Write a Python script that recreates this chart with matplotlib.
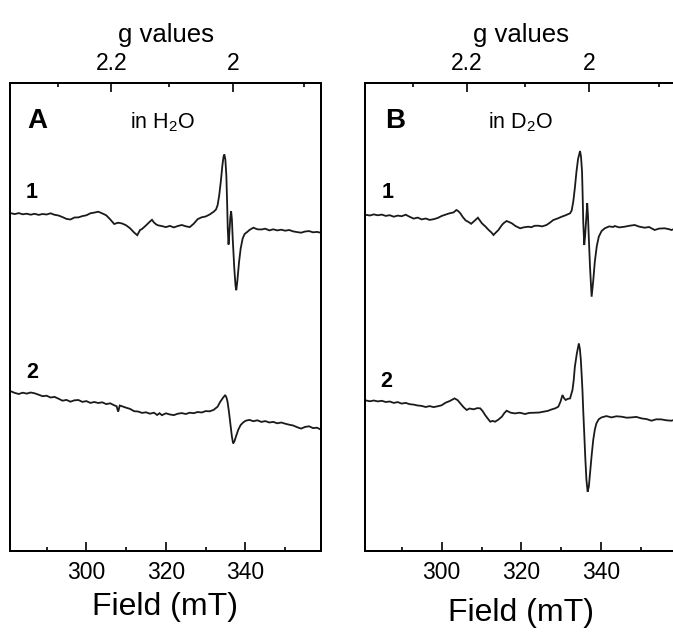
import numpy as np
import matplotlib
matplotlib.use("Agg")
import matplotlib.pyplot as plt

plt.rcParams['font.family'] = ['Liberation Sans', 'DejaVu Sans']
plt.rcParams['mathtext.default'] = 'regular'

# microwave frequency (GHz) used for the g-value axis
nu_ghz = 9.43
x_range = (280.8, 359.0)
field_ticks = [300, 320, 340]
field_minor = [290, 310, 330, 350]
g_ticks = [2.2, 2.0]
g_tick_labels = ['2.2', '2']
g_minor = [2.3, 2.1, 1.9]

# --- panel A, trace 1 (in H2O) ---
field_a1 = [281, 282, 283, 284, 285, 286, 287, 288, 289, 290, 291, 292, 293, 294, 295, 296, 297, 298, 299, 300,
            301, 302, 303, 304, 305, 306, 307, 308, 309, 310, 311, 312, 312.8, 313.5, 314, 315, 316, 316.5, 317, 317.6,
            318, 319, 320, 321, 322, 323, 324, 325, 326, 327, 328, 329, 330, 331, 332, 332.6, 333, 333.4, 333.8, 334.2,
            334.5, 334.7, 334.95, 335.2, 335.4, 335.55, 335.75, 335.95, 336.2, 336.4, 336.6, 336.8, 337.2, 337.5, 337.7,
            337.95, 338.4, 338.8, 339.3, 339.8, 340.5, 341, 342, 343, 344, 345, 346, 347, 348, 349, 350, 351, 352, 353,
            354, 355, 356, 357, 358, 359]
sig_a1 = [0.3, -0.6, 0.4, -0.8, -0.2, -1.2, -0.3, -1.4, -0.5, -1.0, 0.2, -1.3, -2.0, -3.6, -5.4, -6.0, -4.0, -3.9, -2.6, -1.8,
          0.2, 0.9, 1.8, 0.1, -1.8, -5.9, -10.5, -9.2, -10.0, -11.8, -14.8, -19.0, -21.7, -16.5, -15.5, -11.9, -8.0, -6.3, -9.0, -11.0,
          -11.8, -12.6, -13.6, -12.4, -13.9, -12.5, -11.5, -12.8, -13.6, -10.2, -5.6, -3.8, -3.0, -1.0, 1.7, 4.0, 8.3, 18, 31.7, 48,
          57, 59, 54, 38, 10, -15, -31, -20, -4, 2.3, -6, -25, -55, -72, -76.7,
          -68, -48.3, -35, -25, -20.5, -18.3, -16.5, -14.2, -15.8, -16.0, -15.2, -16.9, -15.8, -16.9, -16.2, -17.2, -16.5, -17.9, -18.6,
          -19.2, -18.0, -17.6, -18.8, -18.4, -19.3]

# --- panel A, trace 2 ---
field_a2 = [281, 282, 283, 284, 285, 286, 287, 288, 289, 290, 291, 292, 293, 294, 295, 296, 297, 298, 299, 300,
            301, 302, 303, 304, 305, 306, 307, 307.6, 308, 308.4, 309, 310, 311, 312, 313, 314, 315, 316, 317, 317.8,
            318.4, 319, 320, 321, 322, 323, 324, 325, 326, 327, 328, 329, 330, 331, 332, 333, 333.6, 334.25, 334.9, 335.2,
            335.5, 335.85, 336.2, 336.6, 336.9, 337.2, 337.6, 338.2, 338.8, 339.5, 340.1, 341, 342, 343, 344, 345, 346, 347,
            348, 349, 350, 351, 352, 353, 354, 355, 356, 357, 358, 359]
sig_a2 = [0.4, -1.2, -2.3, -1.0, -1.9, -0.8, -1.6, -3.0, -4.5, -4.0, -5.8, -5.2, -7.0, -9.0, -8.2, -10.0, -8.6, -8.3, -10.2, -9.4,
          -11.2, -10.3, -11.3, -10.6, -12.4, -11.6, -13.6, -14.5, -20, -13.8, -14.6, -16.0, -17.2, -19.5, -19.8, -21.2, -20.6, -22.0, -21.0, -23.3,
          -21.5, -23.5, -21.6, -22.8, -23.4, -22.0, -21.4, -22.3, -21.0, -21.5, -20.3, -20.8, -19.4, -19.6, -18.2, -15.0, -10.5, -6.7, -3.3, -5.5,
          -10, -20, -31.7, -45, -51.7, -50, -45, -38, -33.3, -30.5, -29, -28.2, -29.5, -28.6, -30.2, -29.4, -30.8, -30.2,
          -31.6, -30.8, -32.0, -33.0, -33.8, -35.5, -36.9, -35.2, -34.6, -36.4, -36.0, -38.0]

# --- panel B, trace 1 (in D2O) ---
field_b1 = [281, 282, 283, 284, 285, 286, 287, 288, 289, 290, 291, 292, 293, 294, 295, 296, 297, 298, 299, 300,
            301, 302, 303, 303.7, 304.2, 304.7, 305.3, 306, 307, 307.4, 308, 308.6, 309.1, 309.6, 310.1, 311, 311.8, 312.5, 313, 313.6,
            314.25, 315, 315.5, 316.3, 317, 317.6, 318.5, 319.7, 320.5, 321.7, 322.5, 323.3, 324.25, 325.2, 326.3, 327.2, 328, 329, 330.1, 331,
            332.2, 332.6, 333, 333.4, 333.8, 334.2, 334.7, 334.95, 335.2, 335.35, 335.5, 335.75, 335.95, 336.2, 336.5, 336.7, 336.9, 337.2, 337.6, 338.0,
            338.4, 338.9, 339.4, 340.1, 340.9, 342, 343, 343.4, 344.5, 345.9, 347, 348.4, 349.5, 350.9, 352, 353.4, 354.5, 355.9, 357, 357.6,
            358.4, 359]
sig_b1 = [0.2, -0.5, 0.6, -0.3, 0.4, -0.9, -0.2, -1.7, -0.6, -1.2, 0.3, -1.8, -3.6, -2.6, -4.4, -3.5, -4.9, -4.2, -3.0, -1.0,
          0.4, 1.7, 2.6, 5, 3.8, 1.7, -2, -5.3, -7.6, -8.8, -6.7, -4.5, -2.7, -5.5, -8.3, -11.6, -15, -17.5, -20, -17.5,
          -15, -10.6, -8.3, -6, -7.2, -8.3, -11.0, -13.3, -12.4, -11.7, -12.2, -10.8, -10.7, -11.4, -10, -7.5, -5, -3.6, -1.7, -0.4,
          1.7, 4.5, 13.3, 27, 43.3, 56, 64, 58, 43.3, 20, -6.7, -30, -22, -6.7, 11.7, -2, -23.3, -52, -81.7, -66,
          -46.7, -31, -21.7, -16, -13.3, -11.4, -12.0, -11, -12.4, -11.7, -10.8, -10, -11.6, -12.7, -12.0, -15, -13.6, -13.3, -14.2, -15,
          -13.8, -14.5]

# --- panel B, trace 2 ---
field_b2 = [281, 282, 283, 284, 285, 286, 287, 288, 289, 290, 291, 292, 293, 294, 295, 296, 297, 298, 299, 300,
            301, 302, 303.25, 304, 304.7, 305.5, 306.3, 307, 308, 309, 309.7, 310.3, 310.9, 311.6, 312.2, 312.8, 313.4, 314.2, 315.1, 315.7,
            316.3, 317.3, 318.4, 319.6, 320.9, 322, 323.4, 324.5, 325.5, 326.6, 327.6, 328.5, 329.25, 329.8, 330.3, 330.7, 331.1, 331.6, 332.2, 332.8,
            333.1, 333.4, 333.9, 334.4, 334.65, 334.9, 335.1, 335.3, 335.5, 335.75, 336.0, 336.3, 336.6, 336.9, 337.2, 337.6, 338, 338.4, 338.8, 339.4,
            340.1, 341.3, 342.6, 343.8, 345.1, 346.4, 347.6, 348.8, 350.1, 351.4, 352.6, 353.8, 355.1, 356.3, 357.6, 358.5, 359]
sig_b2 = [0.3, -0.6, 0.2, -0.7, -0.1, -1.3, -0.8, -2.2, -1.4, -2.9, -2.2, -3.5, -3.9, -4.8, -5.2, -6.3, -5.4, -6.4, -5.6, -4.6,
          -2.0, -0.4, 2.3, 0.6, -2.7, -6.5, -9.3, -7.8, -8.6, -7.4, -7.7, -10.5, -14.3, -18, -21, -20.2, -21, -19, -16, -12.5,
          -10, -12.0, -12.7, -12.0, -13.3, -12.2, -12, -11.8, -11, -10.2, -8.7, -7.6, -6, -1, 5.7, 2.5, 0.7, 1.8, 2.3, 10.7,
          20, 34, 47.3, 57.3, 52, 40.7, 26, 10.7, -10, -32.7, -56, -79.3, -91, -86, -72.7, -55, -39.3, -29, -22.7, -18.5,
          -16.7, -15.4, -16.7, -15.6, -16, -17.0, -16.7, -16.2, -17.7, -18.4, -20, -18.6, -18.7, -19.6, -20, -18.9, -19.6]

# vertical stacking of the traces (same units as signals)
offset_1 = 337.5
offset_2a = 159.3
offset_2b = 150.3

fig = plt.figure(figsize=(6.73, 6.32), dpi=100)
W, H = 673, 632
ax_a = fig.add_axes([10 / W, 81 / H, 311 / W, 468 / H])
ax_b = fig.add_axes([365 / W, 81 / H, 312 / W, 468 / H])


def b_from_g(g):
    return 71.4477 * nu_ghz / np.asarray(g, dtype=float)


def style_panel(ax, xlabel_pad):
    ax.set_xlim(*x_range)
    ax.set_ylim(0, 468)
    ax.set_yticks([])
    for sp in ax.spines.values():
        sp.set_linewidth(1.4)
    ax.set_xticks(field_ticks)
    ax.set_xticks(field_minor, minor=True)
    ax.tick_params(axis='x', which='major', direction='in', length=6.5, width=1.2,
                   labelsize=16.5, pad=7)
    ax.tick_params(axis='x', which='minor', direction='in', length=3.2, width=1.2)
    ax.set_xlabel('Field (mT)', fontsize=23, labelpad=xlabel_pad)

    top = ax.twiny()
    top.set_xlim(*x_range)
    top.set_xticks(b_from_g(g_ticks))
    top.set_xticklabels(g_tick_labels)
    top.set_xticks(b_from_g(g_minor), minor=True)
    top.tick_params(axis='x', which='major', direction='in', length=6.5, width=1.2,
                    labelsize=16.5, pad=6)
    top.tick_params(axis='x', which='minor', direction='in', length=3.2, width=1.2)
    for sp in top.spines.values():
        sp.set_linewidth(1.4)
    top.set_xlabel('g values', fontsize=18.5, labelpad=7)
    return top


style_panel(ax_a, 6)
style_panel(ax_b, 10)

line_kw = dict(color='#1a1a1a', lw=1.3, solid_joinstyle='miter')
ax_a.plot(field_a1, np.array(sig_a1) + offset_1, **line_kw)
ax_a.plot(field_a2, np.array(sig_a2) + offset_2a, **line_kw)
ax_b.plot(field_b1, np.array(sig_b1) + offset_1 - 1.5, **line_kw)
ax_b.plot(field_b2, np.array(sig_b2) + offset_2b, **line_kw)

ax_a.text(0.055, 0.904, 'A', transform=ax_a.transAxes, fontsize=20, fontweight='bold')
ax_a.text(0.492, 0.904, 'in H$_2$O', transform=ax_a.transAxes, fontsize=15.5, ha='center')
ax_b.text(0.064, 0.904, 'B', transform=ax_b.transAxes, fontsize=20, fontweight='bold')
ax_b.text(0.497, 0.904, 'in D$_2$O', transform=ax_b.transAxes, fontsize=15.5, ha='center')

ax_a.text(0.071, 0.765, '1', transform=ax_a.transAxes, fontsize=15.5, fontweight='bold', ha='center', va='center')
ax_a.text(0.071, 0.382, '2', transform=ax_a.transAxes, fontsize=15.5, fontweight='bold', ha='center', va='center')
ax_b.text(0.074, 0.765, '1', transform=ax_b.transAxes, fontsize=15.5, fontweight='bold', ha='center', va='center')
ax_b.text(0.067, 0.363, '2', transform=ax_b.transAxes, fontsize=15.5, fontweight='bold', ha='center', va='center')

fig.savefig('out.png', dpi=100)
